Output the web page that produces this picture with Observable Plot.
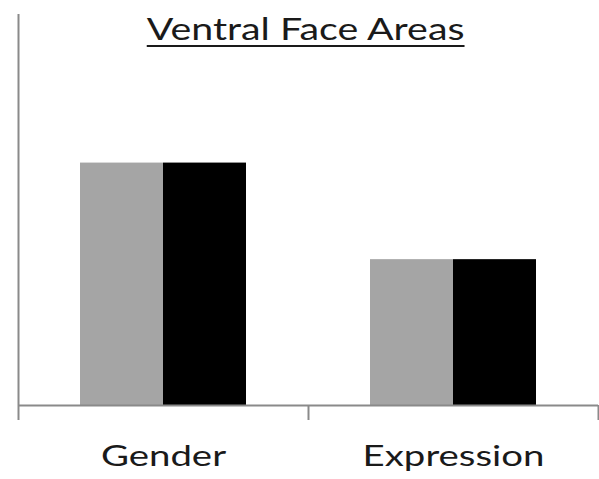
<!DOCTYPE html>
<html>
<head>
<meta charset="utf-8">
<script src="https://cdn.jsdelivr.net/npm/d3@7"></script>
<script src="https://cdn.jsdelivr.net/npm/@observablehq/plot@0.6"></script>
<style>
  html, body { margin: 0; padding: 0; background: #fff; }
  #wrap { position: relative; width: 599px; height: 479px; }
  #title {
    position: absolute; left: 0; top: 9px; width: 611px; text-align: center;
    font-family: Lato, "Open Sans", sans-serif; font-size: 31px; color: #1a1a1a;
    transform: scaleX(1.27); transform-origin: 305px 0;
  }
  #title span {
    text-decoration: underline; text-decoration-thickness: 2px; text-underline-offset: 5px;
  }
  svg { display: block; }
</style>
</head>
<body>
<div id="wrap">
  <div id="title"><span>Ventral Face Areas</span></div>
</div>
<script>
const categories = ["Gender", "Expression"];
const series = ["Series 1", "Series 2"];
const series1Values = [0.62, 0.373];
const series2Values = [0.62, 0.373];
const seriesColors = ["#a5a5a5", "#000000"];

const barWidth = 83 / 290; // fraction of a category band
const data = [];
categories.forEach((c, i) => {
  data.push({category: c, series: series[0], x1: i + 0.5 - barWidth, x2: i + 0.5, value: series1Values[i]});
  data.push({category: c, series: series[1], x1: i + 0.5, x2: i + 0.5 + barWidth, value: series2Values[i]});
});

const axisColor = "#8a8a8a";
const chart = Plot.plot({
  width: 599,
  height: 479,
  marginLeft: 18,
  marginRight: 1,
  marginTop: 14,
  marginBottom: 74,
  style: {fontFamily: "Lato, 'Open Sans', sans-serif", background: "#fff"},
  x: {type: "linear", domain: [0, categories.length], axis: null},
  y: {domain: [0, 1], axis: null},
  color: {domain: series, range: seriesColors},
  marks: [
    Plot.rectY(data, {x1: "x1", x2: "x2", y: "value", fill: "series"}),
    Plot.ruleY([0], {stroke: axisColor, strokeWidth: 2}),
    Plot.ruleX([0], {stroke: axisColor, strokeWidth: 2}),
    Plot.axisX(d3.range(categories.length + 1), {tickSize: 15, tickFormat: () => "", stroke: axisColor, strokeWidth: 2, strokeOpacity: 1}),
    Plot.axisX(categories.map((c, i) => i + 0.5), {
      tickSize: 0, tickPadding: 41, fontSize: 28, fill: "#1a1a1a",
      tickFormat: (d) => categories[Math.floor(d)],
      className: "catlabels"
    })
  ]
});
document.getElementById("wrap").prepend(chart);
// stretch category labels horizontally to match the reference's wide lettering
chart.querySelectorAll("text").forEach((t) => {
  if (!t.textContent) return;
  const len = t.getComputedTextLength();
  if (len > 0) {
    t.setAttribute("textLength", (len * 1.37).toFixed(1));
    t.setAttribute("lengthAdjust", "spacingAndGlyphs");
  }
});
</script>
</body>
</html>
